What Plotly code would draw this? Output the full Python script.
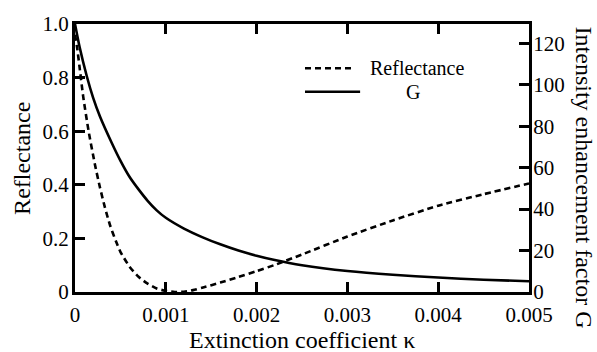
import plotly.graph_objects as go

# Data
kappa_R = [0, 0.00002, 0.00005, 0.00009, 0.00015, 0.00022, 0.000275, 0.00033, 0.000385,
           0.00045, 0.0005, 0.0006, 0.0007, 0.0008, 0.0009, 0.001, 0.0011, 0.0012, 0.0013,
           0.0014, 0.0016, 0.0018, 0.002, 0.0022, 0.0025, 0.003, 0.0035, 0.004, 0.0045, 0.005]
reflectance = [0.96, 0.92, 0.84, 0.73, 0.60, 0.475, 0.39, 0.315, 0.25,
               0.19, 0.15, 0.095, 0.057, 0.031, 0.013, 0.004, 0.0, 0.001, 0.007,
               0.016, 0.035, 0.056, 0.078, 0.101, 0.14, 0.207, 0.267, 0.322, 0.365, 0.405]

kappa_G = [0, 0.00005, 0.00013, 0.0002, 0.000275, 0.0004, 0.0005, 0.0006, 0.0007, 0.0008,
           0.0009, 0.001, 0.0012, 0.0014, 0.0016, 0.0018, 0.002, 0.0022, 0.0025, 0.003,
           0.0035, 0.004, 0.0045, 0.005]
G = [129.3, 118.3, 104.1, 93.7, 84.7, 72.4, 63.4, 55.6, 49.5, 44.0,
     39.4, 35.8, 30.6, 26.5, 23.0, 20.0, 17.5, 15.4, 12.9, 10.1,
     8.3, 7.0, 5.9, 5.2]

x_ticks = [0, 0.001, 0.002, 0.003, 0.004, 0.005]
x_ticktext = ["0", "0.001", "0.002", "0.003", "0.004", "0.005"]
y_ticks = [0, 0.2, 0.4, 0.6, 0.8, 1.0]
y_ticktext = ["0", "0.2", "0.4", "0.6", "0.8", "1.0"]
y2_ticks = [0, 20, 40, 60, 80, 100, 120]
y2_ticktext = ["0", "20", "40", "60", "80", "100", "120"]

FONT = "Liberation Serif"

fig = go.Figure()
fig.add_trace(go.Scatter(x=kappa_R, y=reflectance, mode="lines", name="Reflectance",
                         line=dict(color="black", width=2.6, dash="6px,4px", shape="spline", smoothing=0.6),
                         yaxis="y", showlegend=False))
fig.add_trace(go.Scatter(x=kappa_G, y=G, mode="lines", name="G",
                         line=dict(color="black", width=2.6, shape="spline", smoothing=0.6),
                         yaxis="y2", showlegend=False))

axis_common = dict(showgrid=False, zeroline=False, showline=True, linecolor="black", linewidth=3,
                   ticks="inside", ticklen=10, tickwidth=2.5, tickcolor="black",
                   tickfont=dict(family=FONT, size=21, color="black"))

fig.update_layout(
    width=597, height=352,
    margin=dict(l=75, r=68, t=19, b=60),
    paper_bgcolor="white", plot_bgcolor="white",
    font=dict(family=FONT, color="black"),
    xaxis=dict(range=[0, 0.005], tickvals=x_ticks, ticktext=x_ticktext, mirror="ticks",
               ticklabelstandoff=2, **axis_common),
    yaxis=dict(range=[0, 1.0], tickvals=y_ticks, ticktext=y_ticktext, ticklabelstandoff=-1, **axis_common),
    yaxis2=dict(range=[0, 129.3], tickvals=y2_ticks, ticktext=y2_ticktext, overlaying="y", side="right",
                ticklabelstandoff=-3, **axis_common),
    annotations=[
        dict(text="Extinction coefficient κ", xref="paper", yref="paper", x=0.5, y=-0.18,
             xanchor="center", yanchor="middle", showarrow=False,
             font=dict(family=FONT, size=24, color="black")),
        dict(text="Reflectance", xref="paper", yref="paper", x=-0.117, y=0.5,
             xanchor="center", yanchor="middle", textangle=-90, showarrow=False,
             font=dict(family=FONT, size=24, color="black")),
        dict(text="Intensity enhancement factor G", xref="paper", yref="paper", x=1.12, y=0.425,
             xanchor="center", yanchor="middle", textangle=90, showarrow=False,
             font=dict(family=FONT, size=24, color="black")),
        dict(text="Reflectance", xref="paper", yref="paper", x=0.645, y=0.835,
             xanchor="left", yanchor="middle", showarrow=False,
             font=dict(family=FONT, size=20, color="black")),
        dict(text="G", xref="paper", yref="paper", x=0.744, y=0.747,
             xanchor="center", yanchor="middle", showarrow=False,
             font=dict(family=FONT, size=20, color="black")),
    ],
    shapes=[
        dict(type="line", xref="paper", yref="paper", x0=0.5066, x1=0.6167, y0=0.835, y1=0.835,
             line=dict(color="black", width=2.6, dash="6px,4px")),
        dict(type="line", xref="paper", yref="paper", x0=0.5066, x1=0.628, y0=0.747, y1=0.747,
             line=dict(color="black", width=2.6)),
    ],
)

fig.write_html("out.html")
